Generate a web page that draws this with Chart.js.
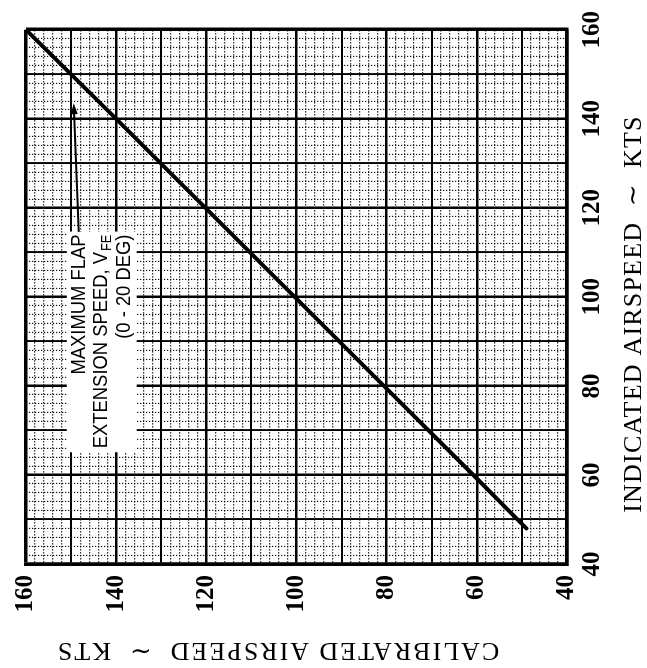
<!DOCTYPE html>
<html><head><meta charset="utf-8">
<script src="https://cdn.jsdelivr.net/npm/chart.js@4.4.0/dist/chart.umd.min.js"></script>
<style>
html,body{margin:0;padding:0;background:#fff;overflow:hidden;width:647px;height:668px;}
#wrap{position:absolute;left:0;top:0;width:668px;height:647px;transform-origin:0 0;transform:translateY(668px) rotate(-90deg);}
canvas{display:block}
</style></head><body>
<div id="wrap"><canvas id="c" width="668" height="647"></canvas></div>
<script>
// Airspeed calibration (chart is drawn upright, then the page rotates it like the reference)
const indicatedAirspeed = [48, 60, 80, 100, 120, 140, 160];
const calibratedAirspeed = [49, 60.8, 80.6, 100.4, 120.2, 140, 160];
const axisTickLabels = [40, 60, 80, 100, 120, 140, 160];
const xTitleText = 'INDICATED AIRSPEED  \u223C  KTS';
const yTitleText = 'CALIBRATED AIRSPEED  \u223C  KTS';
const noteLines = ['MAXIMUM FLAP', 'EXTENSION SPEED, V', '(0 - 20 DEG)'];
const noteSubscript = 'FE';

const noteOpts = { rightIAS: 114, lineCAS: [148.2, 143.3, 138.2], arrowFrom: [114.6, 148.3], arrowTo: [143.5, 149.4], fontSize: 20, squeeze: 0.92 };
const SERIF = '"Liberation Serif", "DejaVu Serif", serif';
const SANS = '"Liberation Sans", Arial, sans-serif';

function gridWidth(ctx){ const v = ctx.tick ? ctx.tick.value : 0; if (v===40||v===160) return 3.5; if (v%20===0) return 2.5; if (v%10===0) return 1.9; return 1.15; }
function gridColor(ctx){ const v = ctx.tick ? ctx.tick.value : 0; return v%10===0 ? '#000' : '#111'; }
function gridDash(ctx){ return (ctx.tick && ctx.tick.value%10!==0) ? [1.3, 1.7] : []; }

const notePlugin = {
  id: 'note',
  afterDatasetsDraw(chart){
    const {ctx, scales:{x, y}} = chart;
    const fs = noteOpts.fontSize, sx = noteOpts.squeeze;
    const mainFont = fs + 'px ' + SANS, subFont = Math.round(fs*0.7) + 'px ' + SANS;
    ctx.save();
    const right = x.getPixelForValue(noteOpts.rightIAS);
    const widths = noteLines.map((t,i)=>{ ctx.font = mainFont; let w = ctx.measureText(t).width; if (i===1){ ctx.font = subFont; w += ctx.measureText(noteSubscript).width + 1; } return w*sx; });
    const maxW = Math.max(...widths);
    const ys = noteOpts.lineCAS.map(v=>y.getPixelForValue(v));
    ctx.fillStyle = '#fff';
    ctx.fillRect(right - maxW - 4, ys[0] - fs*0.62, maxW + 7, ys[2] - ys[0] + fs*1.24);
    ctx.fillStyle = '#000';
    ctx.textBaseline = 'middle';
    ctx.textAlign = 'left';
    noteLines.forEach((t,i)=>{
      ctx.save();
      ctx.translate(right - widths[i], ys[i]);
      ctx.scale(sx, 1);
      ctx.font = mainFont;
      ctx.fillText(t, 0, 0);
      if (i===1){ const w = ctx.measureText(t).width; ctx.font = subFont; ctx.fillText(noteSubscript, w + 1, fs*0.3); }
      ctx.restore();
    });
    const x0 = x.getPixelForValue(noteOpts.arrowFrom[0]), y0 = y.getPixelForValue(noteOpts.arrowFrom[1]);
    const x1 = x.getPixelForValue(noteOpts.arrowTo[0]), y1 = y.getPixelForValue(noteOpts.arrowTo[1]);
    const ang = Math.atan2(y1-y0, x1-x0);
    ctx.strokeStyle = '#000'; ctx.lineWidth = 2;
    ctx.beginPath(); ctx.moveTo(x0,y0); ctx.lineTo(x1 - 8*Math.cos(ang), y1 - 8*Math.sin(ang)); ctx.stroke();
    ctx.beginPath();
    ctx.moveTo(x1, y1);
    ctx.lineTo(x1 - 11*Math.cos(ang) + 3.5*Math.sin(ang), y1 - 11*Math.sin(ang) - 3.5*Math.cos(ang));
    ctx.lineTo(x1 - 11*Math.cos(ang) - 3.5*Math.sin(ang), y1 - 11*Math.sin(ang) + 3.5*Math.cos(ang));
    ctx.closePath(); ctx.fill();
    ctx.restore();
  }
};

const titlePlugin = {
  id: 'axisTitles',
  afterDraw(chart){
    const {ctx, chartArea:a} = chart;
    ctx.save();
    ctx.font = '26px ' + SERIF;
    ctx.fillStyle = '#000';
    ctx.textAlign = 'center';
    ctx.textBaseline = 'middle';
    ctx.letterSpacing = '1.2px';
    ctx.fillText(xTitleText, a.left + 250, a.bottom + 67);
    ctx.letterSpacing = '2px';
    ctx.translate(18, a.top + 251.5);
    ctx.rotate(-Math.PI/2);
    ctx.fillText(yTitleText, 0, 0);
    ctx.restore();
  }
};

const tickLabel = v => axisTickLabels.includes(v) ? String(v) : '';

new Chart(document.getElementById('c'), {
  type: 'scatter',
  data: {
    datasets: [{
      data: indicatedAirspeed.map((v,i)=>({x: v, y: calibratedAirspeed[i]})),
      showLine: true,
      borderColor: '#000',
      borderWidth: 4,
      borderCapStyle: 'round',
      pointRadius: 0,
      tension: 0
    }]
  },
  options: {
    responsive: false,
    animation: false,
    layout: { padding: { top: 25, right: 23, bottom: 0, left: 0 } },
    plugins: { legend: { display: false }, tooltip: { enabled: false } },
    scales: {
      x: {
        type: 'linear', min: 40, max: 160,
        ticks: { stepSize: 2, autoSkip: false, maxRotation: 0, padding: 11, color: '#000', font: { family: SERIF, size: 25, weight: 'bold' }, callback: tickLabel },
        grid: { drawTicks: false, lineWidth: gridWidth, color: gridColor },
        border: { display: true, width: 3.5, color: '#000', dash: gridDash },
        afterFit: s => { s.height = 80; }
      },
      y: {
        type: 'linear', min: 40, max: 160,
        ticks: { stepSize: 2, autoSkip: false, padding: 11, color: '#000', font: { family: SERIF, size: 25, weight: 'bold' }, callback: tickLabel },
        grid: { drawTicks: false, lineWidth: gridWidth, color: gridColor },
        border: { display: true, width: 3.5, color: '#000', dash: gridDash },
        afterFit: s => { s.width = 104; }
      }
    }
  },
  plugins: [notePlugin, titlePlugin]
});
</script>
</body></html>
